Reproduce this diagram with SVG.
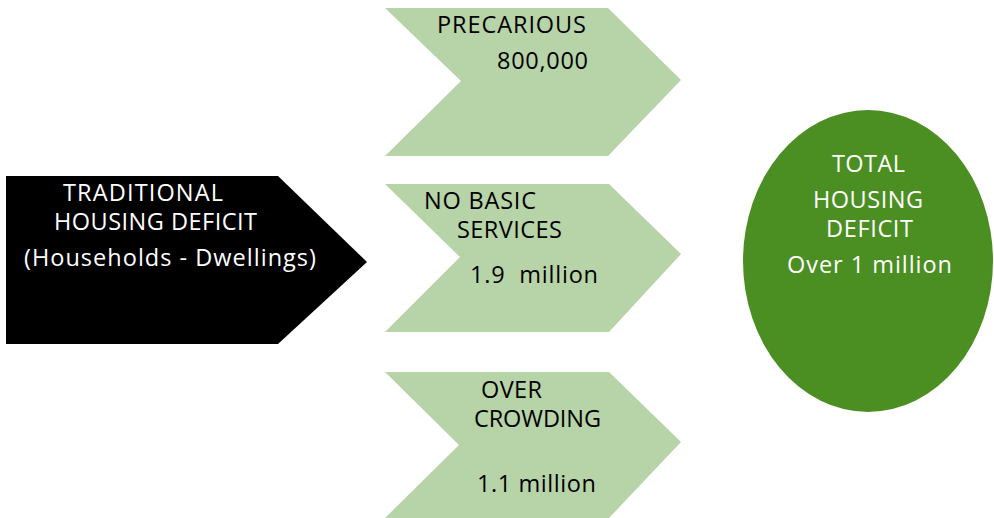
<svg xmlns="http://www.w3.org/2000/svg" width="994" height="518" viewBox="0 0 994 518">
<style>
.lbl{font-family:"Open Sans","Noto Sans","DejaVu Sans",sans-serif;font-size:23.5px}
.w{fill:#ffffff}
.k{fill:#000000}
.chev{fill:#b7d3a8}
</style>
<rect width="994" height="518" fill="#ffffff"/>
<g id="traditional">
<polygon points="6,176 278,176 367,262 278,344 6,344" fill="#000000"/>
<text class="lbl w" x="63" y="201" textLength="160" lengthAdjust="spacing">TRADITIONAL</text>
<text class="lbl w" x="54" y="230" textLength="203" lengthAdjust="spacing">HOUSING DEFICIT</text>
<text class="lbl w" x="24" y="266" textLength="292" lengthAdjust="spacing">(Households - Dwellings)</text>
</g>
<g id="precarious">
<polygon class="chev" points="385,8 608,8 681,80 608,156 385,156 461,81"/>
<text class="lbl k" x="437" y="33" textLength="149" lengthAdjust="spacing">PRECARIOUS</text>
<text class="lbl k" x="497" y="69" textLength="91" lengthAdjust="spacing">800,000</text>
</g>
<g id="nobasic">
<polygon class="chev" points="385,184 609,184 681,254 609,332 385,332 460,257"/>
<text class="lbl k" x="424" y="209" textLength="112" lengthAdjust="spacing">NO BASIC</text>
<text class="lbl k" x="457" y="238" textLength="105" lengthAdjust="spacing">SERVICES</text>
<text class="lbl k" x="470" y="283" textLength="128" lengthAdjust="spacing" xml:space="preserve">1.9  million</text>
</g>
<g id="overcrowding">
<polygon class="chev" points="385,372 609,372 681,442 609,518 385,518 459,445"/>
<text class="lbl k" x="481" y="398" textLength="61" lengthAdjust="spacing">OVER</text>
<text class="lbl k" x="474" y="427" textLength="127" lengthAdjust="spacing">CROWDING</text>
<text class="lbl k" x="477" y="492" textLength="119" lengthAdjust="spacing">1.1 million</text>
</g>
<g id="total">
<ellipse cx="868" cy="261" rx="125" ry="151" fill="#4b8f23"/>
<text class="lbl w" x="832" y="172" textLength="73" lengthAdjust="spacing">TOTAL</text>
<text class="lbl w" x="813" y="208" textLength="110" lengthAdjust="spacing">HOUSING</text>
<text class="lbl w" x="826" y="237" textLength="87" lengthAdjust="spacing">DEFICIT</text>
<text class="lbl w" x="787" y="273" textLength="165" lengthAdjust="spacing">Over 1 million</text>
</g>
<g id="connectors"></g>
</svg>
